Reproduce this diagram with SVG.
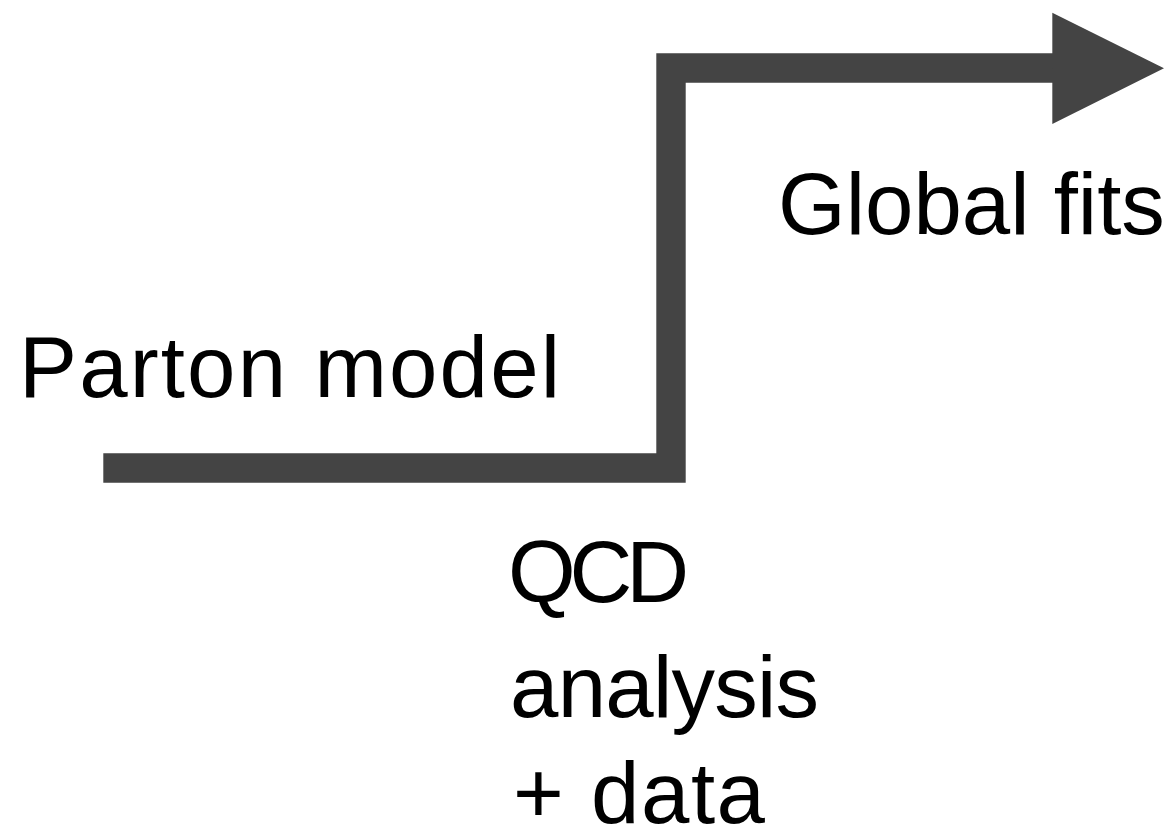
<svg xmlns="http://www.w3.org/2000/svg" width="1170" height="836" viewBox="0 0 1170 836">
  <style>
    .label { font-family: "Liberation Sans", Arial, sans-serif; font-size: 87px; fill: #000000; }
    .step { fill: none; stroke: #444444; stroke-width: 29.4; stroke-linejoin: miter; stroke-linecap: butt; }
    .head { fill: #444444; }
  </style>
  <rect width="1170" height="836" fill="#ffffff"/>

  <!-- stepped arrow: low plateau, rise, high plateau -->
  <g id="connectors">
    <path class="step" d="M103.3,468 H671 V68 H1053"/>
    <polygon class="head" points="1052.3,12.7 1164,68.3 1052.3,124"/>
  </g>

  <g id="parton-model">
    <text class="label" x="19" y="397" textLength="541" lengthAdjust="spacing">Parton model</text>
  </g>

  <g id="global-fits">
    <text class="label" x="778" y="234">Global fits</text>
  </g>

  <g id="qcd-analysis">
    <text class="label" x="508" y="602" textLength="181" lengthAdjust="spacing">QCD</text>
    <text class="label" x="510" y="717" textLength="309" lengthAdjust="spacing">analysis</text>
    <text class="label" x="513" y="823" textLength="252" lengthAdjust="spacing">+ data</text>
  </g>
</svg>
